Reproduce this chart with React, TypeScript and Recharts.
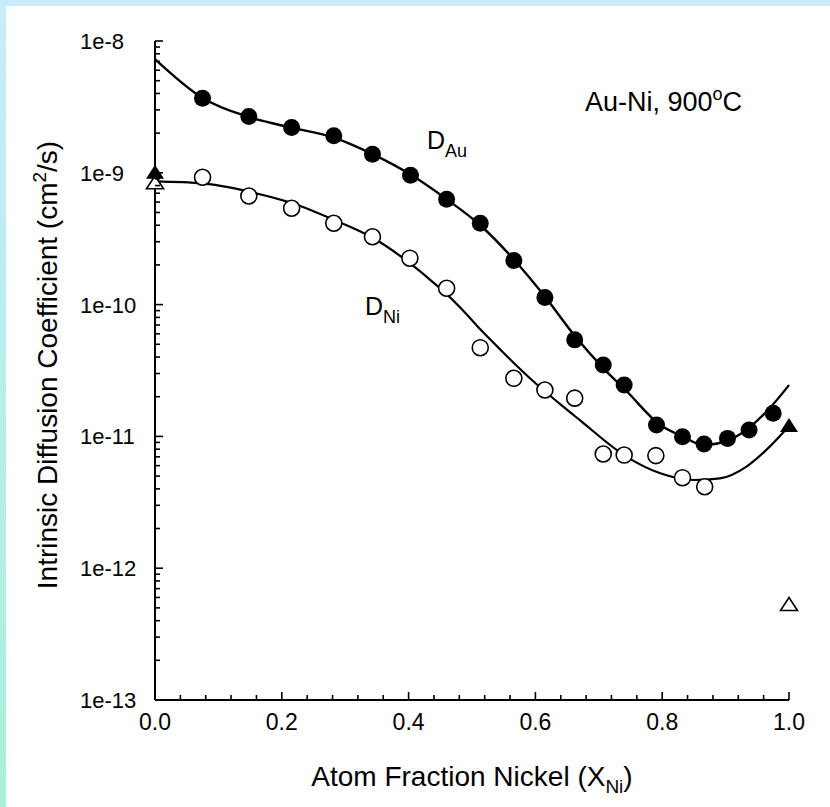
import React from 'react'
import { ComposedChart, Line, Scatter, XAxis, YAxis } from 'recharts'

const W = 830
const H = 807
const FONT = '"Liberation Sans", Arial, sans-serif'

// smooth fitted curves
const auFit = [
  { x: 0, v: 7.3e-9 }, { x: 0.075, v: 3.7e-9 }, { x: 0.148, v: 2.65e-9 },
  { x: 0.2155, v: 2.2e-9 }, { x: 0.282, v: 1.85e-9 }, { x: 0.344, v: 1.38e-9 },
  { x: 0.403, v: 9.7e-10 }, { x: 0.46, v: 6.3e-10 }, { x: 0.513, v: 4.0e-10 },
  { x: 0.566, v: 2.2e-10 }, { x: 0.615, v: 1.15e-10 }, { x: 0.662, v: 5.8e-11 },
  { x: 0.707, v: 3.3e-11 }, { x: 0.744, v: 2.2e-11 }, { x: 0.797, v: 1.22e-11 },
  { x: 0.832, v: 1.0e-11 }, { x: 0.865, v: 8.6e-12 }, { x: 0.912, v: 9.7e-12 },
  { x: 0.965, v: 1.55e-11 }, { x: 1.0, v: 2.45e-11 },
]

const niFit = [
  { x: 0, v: 8.6e-10 }, { x: 0.075, v: 8.3e-10 }, { x: 0.148, v: 7.2e-10 },
  { x: 0.2155, v: 5.9e-10 }, { x: 0.282, v: 4.4e-10 }, { x: 0.344, v: 3.2e-10 },
  { x: 0.402, v: 2.06e-10 }, { x: 0.43, v: 1.6e-10 }, { x: 0.46, v: 1.2e-10 },
  { x: 0.487, v: 8.9e-11 }, { x: 0.513, v: 6.5e-11 }, { x: 0.54, v: 4.8e-11 },
  { x: 0.566, v: 3.6e-11 }, { x: 0.59, v: 2.8e-11 }, { x: 0.615, v: 2.2e-11 },
  { x: 0.64, v: 1.74e-11 }, { x: 0.67, v: 1.33e-11 }, { x: 0.744, v: 7.0e-12 },
  { x: 0.797, v: 5.25e-12 }, { x: 0.849, v: 4.67e-12 }, { x: 0.891, v: 4.8e-12 },
  { x: 0.933, v: 5.9e-12 }, { x: 0.97, v: 8.4e-12 }, { x: 1.0, v: 1.2e-11 },
]

// measured points
const auPoints = [
  { x: 0.075, v: 3.68e-9 }, { x: 0.148, v: 2.67e-9 }, { x: 0.2155, v: 2.21e-9 },
  { x: 0.282, v: 1.91e-9 }, { x: 0.343, v: 1.38e-9 }, { x: 0.403, v: 9.6e-10 },
  { x: 0.46, v: 6.3e-10 }, { x: 0.513, v: 4.14e-10 }, { x: 0.566, v: 2.16e-10 },
  { x: 0.615, v: 1.13e-10 }, { x: 0.662, v: 5.4e-11 }, { x: 0.707, v: 3.48e-11 },
  { x: 0.74, v: 2.45e-11 }, { x: 0.791, v: 1.22e-11 }, { x: 0.832, v: 9.95e-12 },
  { x: 0.866, v: 8.75e-12 }, { x: 0.903, v: 9.66e-12 }, { x: 0.937, v: 1.12e-11 },
  { x: 0.975, v: 1.5e-11 },
]

const niPoints = [
  { x: 0.075, v: 9.25e-10 }, { x: 0.148, v: 6.67e-10 }, { x: 0.2155, v: 5.38e-10 },
  { x: 0.282, v: 4.14e-10 }, { x: 0.343, v: 3.27e-10 }, { x: 0.402, v: 2.25e-10 },
  { x: 0.46, v: 1.33e-10 }, { x: 0.513, v: 4.71e-11 }, { x: 0.566, v: 2.76e-11 },
  { x: 0.615, v: 2.25e-11 }, { x: 0.662, v: 1.95e-11 }, { x: 0.707, v: 7.35e-12 },
  { x: 0.74, v: 7.22e-12 }, { x: 0.79, v: 7.15e-12 }, { x: 0.832, v: 4.86e-12 },
  { x: 0.867, v: 4.15e-12 },
]

// pure-metal end values
const filledTri = [{ x: 0, v: 1.0e-9 }, { x: 1, v: 1.2e-11 }]
const openTri = [{ x: 0, v: 8.4e-10 }, { x: 1, v: 5.3e-13 }]

const xTicks = [
  0, 0.04, 0.08, 0.12, 0.16, 0.2, 0.24, 0.28, 0.32, 0.36, 0.4, 0.44, 0.48,
  0.52, 0.56, 0.6, 0.64, 0.68, 0.72, 0.76, 0.8, 0.84, 0.88, 0.92, 0.96, 1.0,
]
const decades = [-13, -12, -11, -10, -9]
const yTicks: number[] = []
decades.forEach(d => {
  for (let m = 1; m < 10; m++) yTicks.push(m * Math.pow(10, d))
})
yTicks.push(1e-8)

const isMajorX = (v: number) => Math.abs(v * 5 - Math.round(v * 5)) < 1e-6
const isMajorY = (v: number) => {
  const l = Math.log10(v)
  return Math.abs(l - Math.round(l)) < 1e-6
}

const TW = 1.6

const BottomTick = (p: any) => {
  const major = isMajorX(p.payload.value)
  return (
    <g>
      <line x1={p.x} x2={p.x} y1={p.y} y2={p.y - (major ? 8 : 5)} stroke="#000" strokeWidth={TW} />
      {major && (
        <text x={p.x} y={p.y + 30} textAnchor="middle" fontSize={23} fontFamily={FONT} fill="#000">
          {p.payload.value.toFixed(1)}
        </text>
      )}
    </g>
  )
}

const TopTick = (p: any) => {
  const major = isMajorX(p.payload.value)
  return <line x1={p.x} x2={p.x} y1={p.y} y2={p.y + (major ? 8 : 5)} stroke="#000" strokeWidth={TW} />
}

const LeftTick = (p: any) => {
  const v = p.payload.value
  const major = isMajorY(v)
  return (
    <g>
      <line x1={p.x} x2={p.x + (major ? 8 : 5)} y1={p.y} y2={p.y} stroke="#000" strokeWidth={TW} />
      {major && (
        <text x={80} y={p.y + 8} textAnchor="start" fontSize={22} fontFamily={FONT} fill="#000">
          {'1e' + Math.round(Math.log10(v))}
        </text>
      )}
    </g>
  )
}

const RightTick = (p: any) => {
  const major = isMajorY(p.payload.value)
  return <line x1={p.x} x2={p.x - (major ? 8 : 5)} y1={p.y} y2={p.y} stroke="#000" strokeWidth={TW} />
}

const dotFilled = (p: any) => <circle cx={p.cx} cy={p.cy} r={8.5} fill="#000" />
const dotOpen = (p: any) => <circle cx={p.cx} cy={p.cy} r={8} fill="#fff" stroke="#000" strokeWidth={1.6} />
const triFilled = (p: any) => (
  <path d={`M${p.cx},${p.cy - 8} L${p.cx + 9},${p.cy + 6} L${p.cx - 9},${p.cy + 6} Z`} fill="#000" />
)
const triOpen = (p: any) => (
  <path
    d={`M${p.cx},${p.cy - 7} L${p.cx + 8.5},${p.cy + 6} L${p.cx - 8.5},${p.cy + 6} Z`}
    fill="#fff" stroke="#000" strokeWidth={1.6}
  />
)

const axisLine = { stroke: '#000', strokeWidth: 2 }

export default function App() {
  return (
    <div style={{ position: 'fixed', left: 0, top: 0, width: W, height: H, background: '#fff', overflow: 'hidden' }}>
      <div style={{ position: 'absolute', left: 0, top: 0, width: W, height: 6, background: '#c8ecfb' }} />
      <div
        style={{
          position: 'absolute', left: 0, top: 0, width: 6, height: H,
          background: 'linear-gradient(to bottom, #c8ecfb, #a6f1d8)',
        }}
      />
      <div style={{ position: 'absolute', left: 0, top: 0 }}>
        <ComposedChart width={W} height={H} margin={{ top: 41, right: 41, left: 0, bottom: 0 }}>
          <XAxis
            dataKey="x" type="number" domain={[0, 1]} ticks={xTicks} interval={0}
            height={107} tickSize={0} tickMargin={0} axisLine={axisLine} tickLine={false}
            tick={<BottomTick />}
          />
          <XAxis
            xAxisId="top" orientation="top" dataKey="x" type="number" domain={[0, 1]}
            ticks={xTicks} interval={0} height={0} tickSize={0} tickMargin={0}
            axisLine={axisLine} tickLine={false} tick={<TopTick />}
          />
          <YAxis
            dataKey="v" type="number" scale="log" domain={[1e-13, 1e-8]} ticks={yTicks}
            interval={0} width={155} tickSize={0} tickMargin={0} axisLine={axisLine}
            tickLine={false} tick={<LeftTick />}
          />
          <YAxis
            yAxisId="right" orientation="right" dataKey="v" type="number" scale="log"
            domain={[1e-13, 1e-8]} ticks={yTicks} interval={0} width={0} tickSize={0}
            tickMargin={0} axisLine={axisLine} tickLine={false} tick={<RightTick />}
          />
          <Line data={auFit} dataKey="v" type="monotone" stroke="#000" strokeWidth={2.4} dot={false} isAnimationActive={false} />
          <Line data={niFit} dataKey="v" type="monotone" stroke="#000" strokeWidth={2.2} dot={false} isAnimationActive={false} />
          <Scatter data={niPoints} dataKey="v" shape={dotOpen} isAnimationActive={false} />
          <Scatter data={auPoints} dataKey="v" shape={dotFilled} isAnimationActive={false} />
          <Scatter data={openTri} dataKey="v" shape={triOpen} isAnimationActive={false} />
          <Scatter data={filledTri} dataKey="v" shape={triFilled} isAnimationActive={false} />
        </ComposedChart>
      </div>
      <svg
        width={W} height={H}
        style={{ position: 'absolute', left: 0, top: 0, pointerEvents: 'none' }}
        fontFamily={FONT} fill="#000"
      >
        <text x={585} y={111} fontSize={27}>
          Au-Ni, 900<tspan fontSize={18} dy={-11}>o</tspan><tspan dy={11}>C</tspan>
        </text>
        <text x={427} y={149} fontSize={25}>
          D<tspan fontSize={18} dy={8}>Au</tspan>
        </text>
        <text x={365} y={315} fontSize={25}>
          D<tspan fontSize={18} dy={8}>Ni</tspan>
        </text>
        <text x={472} y={786} fontSize={28} textAnchor="middle">
          Atom Fraction Nickel (X<tspan fontSize={19} dy={7}>Ni</tspan><tspan dy={-7}>)</tspan>
        </text>
        <text x={0} y={0} fontSize={28} textAnchor="middle" transform="translate(57,365) rotate(-90)">
          Intrinsic Diffusion Coefficient (cm<tspan fontSize={19} dy={-11}>2</tspan><tspan dy={11}>/s)</tspan>
        </text>
      </svg>
    </div>
  )
}
